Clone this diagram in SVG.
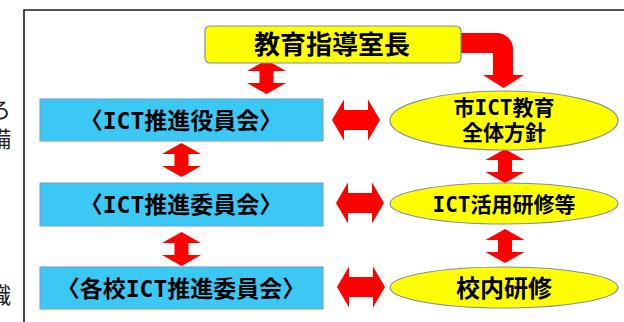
<svg xmlns="http://www.w3.org/2000/svg" xmlns:xlink="http://www.w3.org/1999/xlink" width="624" height="322" viewBox="0 0 624 322">
<style>
  .t { font-family: "Noto Sans CJK JP", "Noto Sans", sans-serif; font-weight: 700; fill: #000; text-anchor: middle; }
  .m { font-family: "DejaVu Sans Mono", "Liberation Mono", monospace; font-weight: 700; }
  .side { font-family: "Noto Sans CJK JP", "Noto Sans", sans-serif; font-weight: 400; fill: #222; font-size: 22px; }
  .blue { fill: #3CC8F5; stroke: #6F9CBE; stroke-width: 1; }
  .yel { fill: #FFFF00; stroke: #7F8FA8; stroke-width: 1.2; }
  .arr { fill: #FF0000; }
  .frame { stroke: #1a1a1a; stroke-width: 1.6; fill: none; }
</style>
<defs>
  <path id="vArrow" d="M0,0 L19.5,11 L7,11 L7,23 L19.5,23 L0,34 L-19.5,23 L-7,23 L-7,11 L-19.5,11 Z"/>
  <path id="hArrow" d="M0,0 L12,-20.5 L12,-10 L36,-10 L36,-20.5 L48,0 L36,20.5 L36,10 L12,10 L12,20.5 Z"/>
</defs>
<rect width="624" height="322" fill="#fff"/>
<g id="frame">
  <path class="frame" d="M24,322 L24,10 L624,10"/>
  <text class="side" x="-11" y="118">ろ</text>
  <text class="side" x="-11" y="147">備</text>
  <text class="side" x="-11" y="303">識</text>
</g>
<g id="connectors" class="arr">
  <path d="M458,33 L497,33 A16,16 0 0 1 513,49 L513,75 L524,75 L503.5,88 L483,75 L493,75 L493,53 L458,53 Z"/>
  <use xlink:href="#vArrow" x="266.5" y="60"/>
  <use xlink:href="#vArrow" x="181.5" y="143"/>
  <use xlink:href="#vArrow" x="181.5" y="232"/>
  <use xlink:href="#vArrow" x="505" y="149"/>
  <use xlink:href="#vArrow" x="505" y="229"/>
  <use xlink:href="#hArrow" x="332" y="120"/>
  <use xlink:href="#hArrow" x="336" y="203"/>
  <use xlink:href="#hArrow" x="337" y="287"/>
</g>
<g id="node-director">
  <rect class="yel" x="205" y="26" width="256" height="37" rx="5"/>
  <text class="t" x="332" y="54" font-size="26">教育指導室長</text>
</g>
<g id="node-yakuin">
  <rect class="blue" x="40" y="99" width="283" height="42"/>
  <text class="t" x="181" y="129" font-size="23">〈<tspan class="m">ICT</tspan>推進役員会〉</text>
</g>
<g id="node-iinkai">
  <rect class="blue" x="40" y="183" width="283" height="43"/>
  <text class="t" x="181" y="213" font-size="23">〈<tspan class="m">ICT</tspan>推進委員会〉</text>
</g>
<g id="node-kakko">
  <rect class="blue" x="40" y="267" width="283" height="42"/>
  <text class="t" x="181" y="297" font-size="23">〈各校<tspan class="m">ICT</tspan>推進委員会〉</text>
</g>
<g id="node-hoshin">
  <ellipse class="yel" cx="504" cy="120.5" rx="114" ry="29.5"/>
  <text class="t" x="504" y="115" font-size="21">市<tspan class="m">ICT</tspan>教育</text>
  <text class="t" x="504" y="140" font-size="21">全体方針</text>
</g>
<g id="node-kenshu">
  <ellipse class="yel" cx="504" cy="203.5" rx="114" ry="20.5"/>
  <text class="t" x="504" y="211.5" font-size="21"><tspan class="m">ICT</tspan>活用研修等</text>
</g>
<g id="node-konai">
  <ellipse class="yel" cx="504" cy="287.5" rx="114" ry="20.5"/>
  <text class="t" x="504" y="297" font-size="24">校内研修</text>
</g>
</svg>
